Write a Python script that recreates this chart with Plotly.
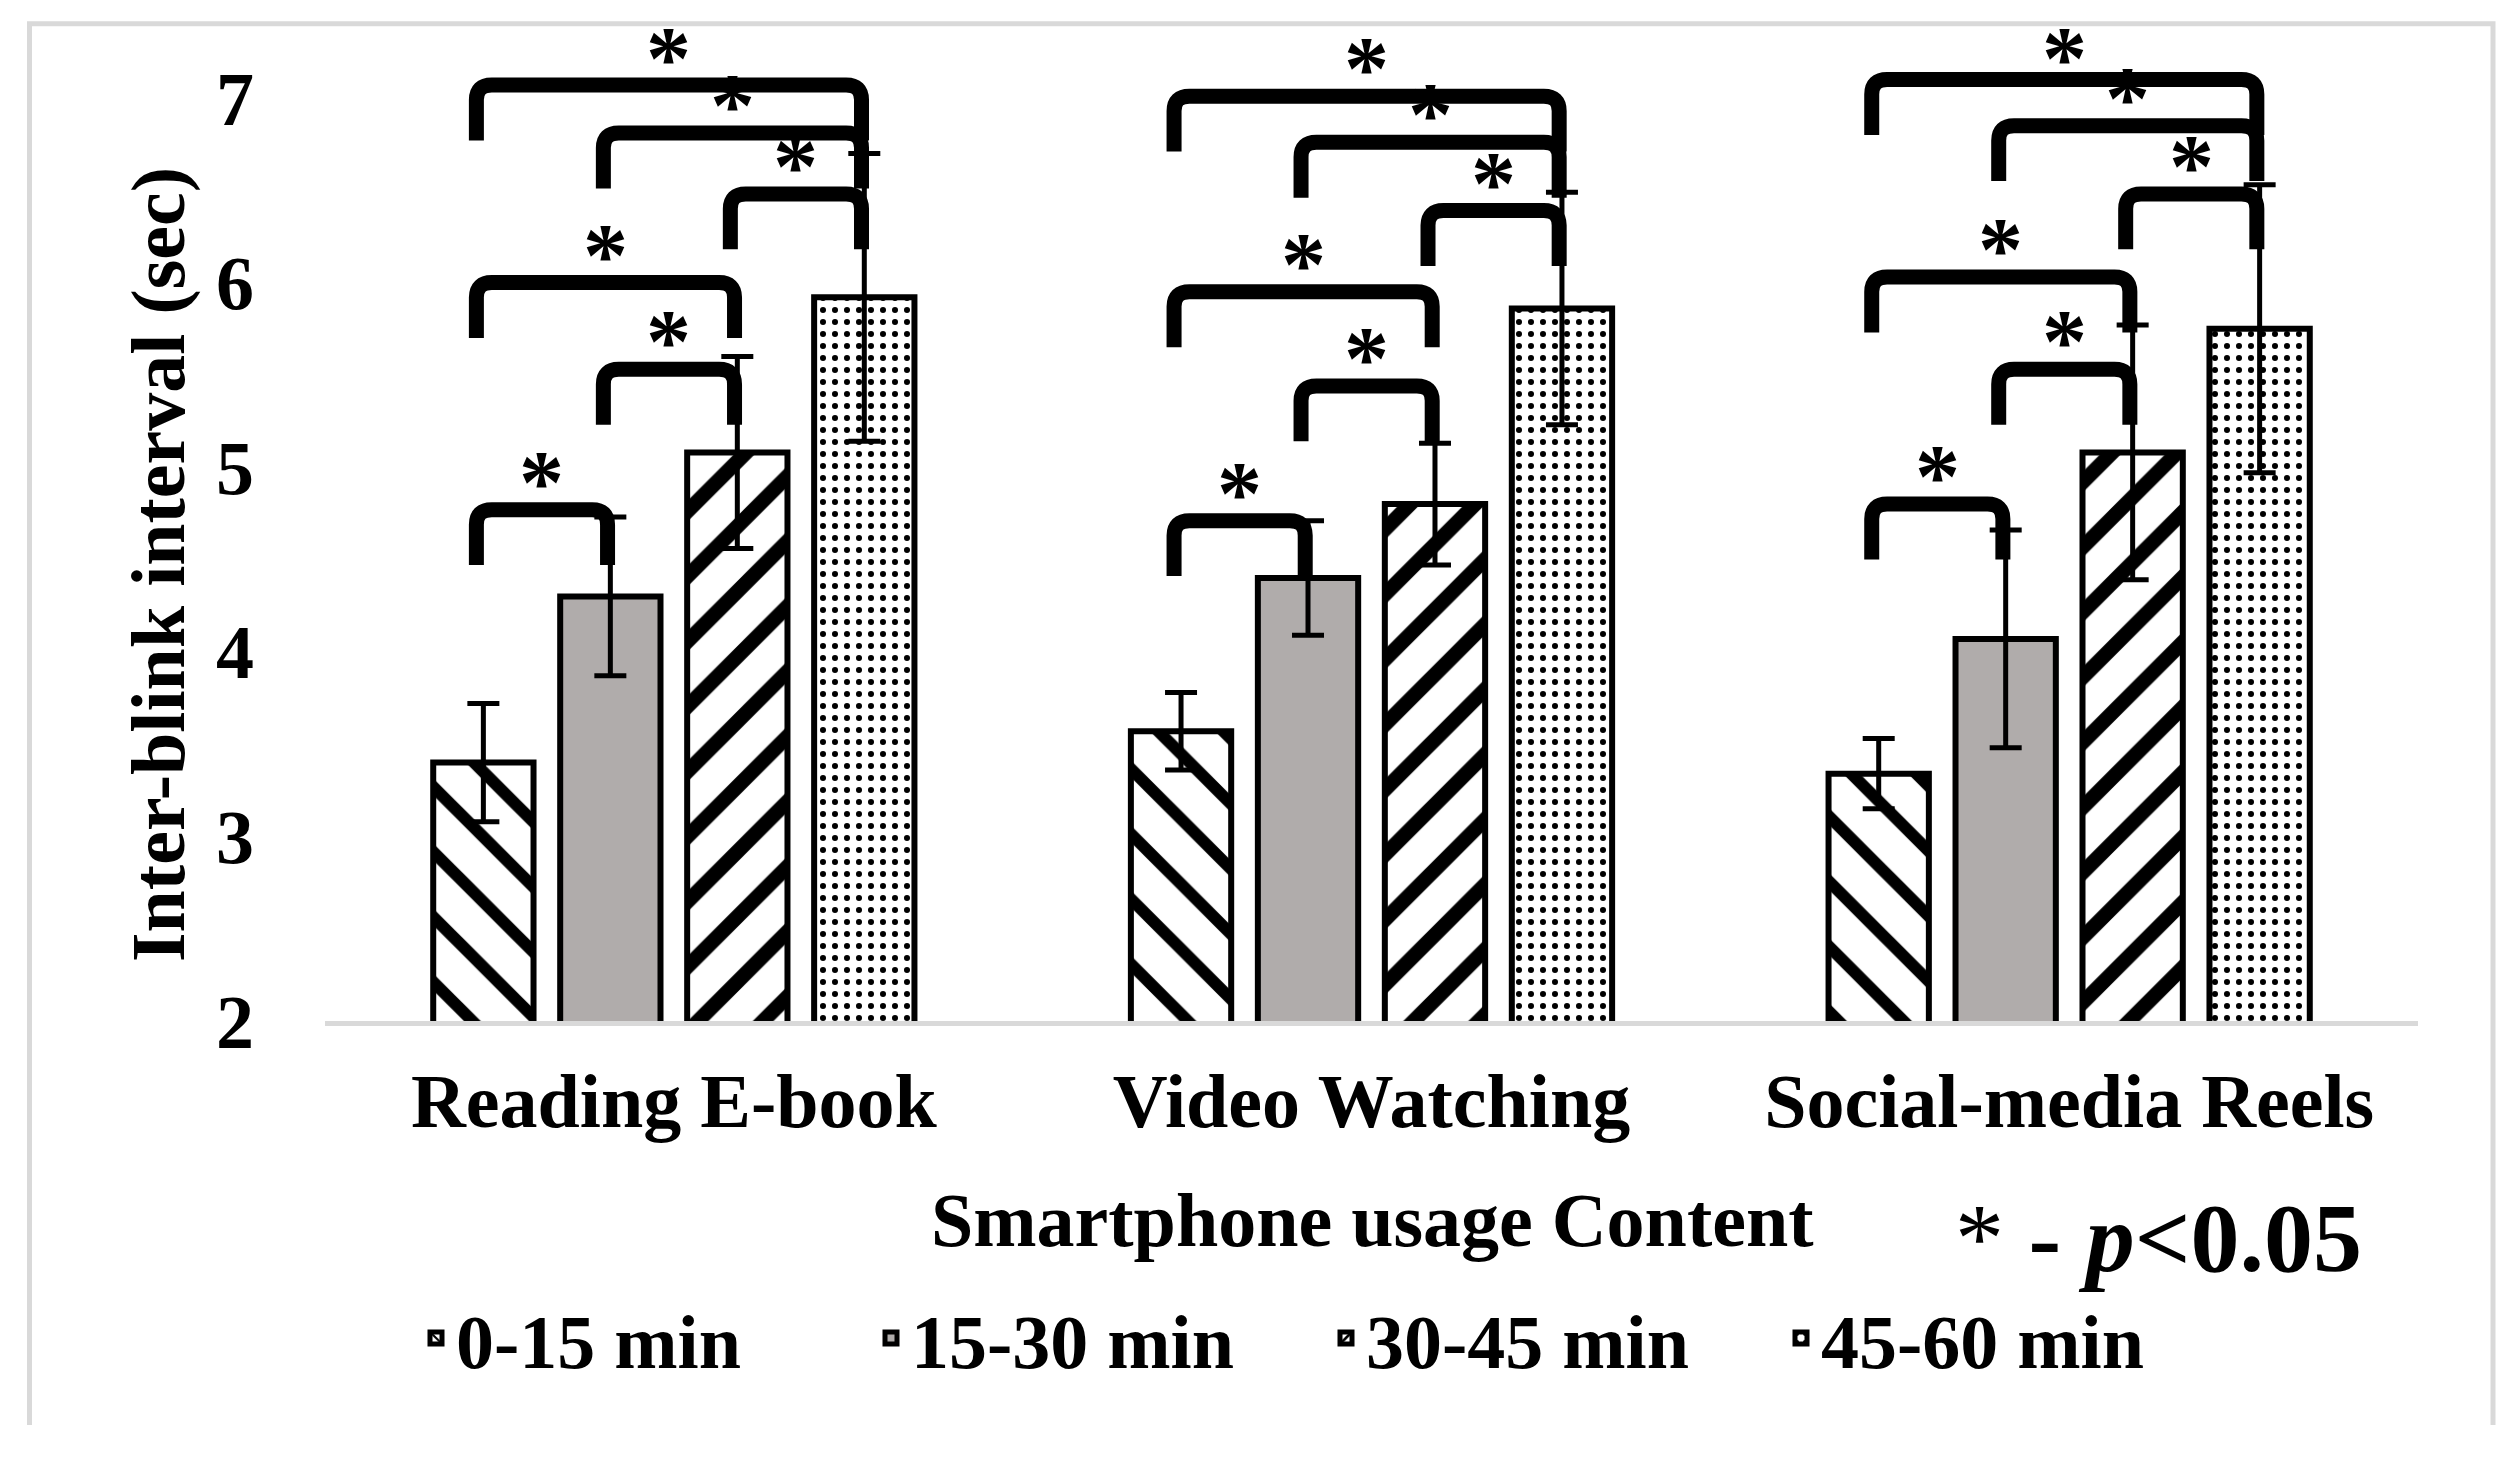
import plotly.graph_objects as go

# ---------------- data ----------------
categories = ["Reading E-book", "Video Watching", "Social-media Reels"]
series_names = ["0-15 min", "15-30 min", "30-45 min", "45-60 min"]

mean_0_15 = [3.40, 3.57, 3.34]
mean_15_30 = [4.30, 4.40, 4.07]
mean_30_45 = [5.08, 4.80, 5.08]
mean_45_60 = [5.92, 5.86, 5.75]

sd_0_15 = [0.32, 0.21, 0.19]
sd_15_30 = [0.43, 0.31, 0.59]
sd_30_45 = [0.52, 0.33, 0.69]
sd_45_60 = [0.78, 0.63, 0.78]

y_ticks = [2, 3, 4, 5, 6, 7]

# significance brackets per category: (bar i, bar j, bracket level)
sig_reading = [(0, 1, 4.77), (1, 2, 5.53), (0, 2, 6.00), (2, 3, 6.48), (1, 3, 6.81), (0, 3, 7.07)]
sig_video = [(0, 1, 4.71), (1, 2, 5.44), (0, 2, 5.95), (2, 3, 6.39), (1, 3, 6.76), (0, 3, 7.01)]
sig_reels = [(0, 1, 4.80), (1, 2, 5.53), (0, 2, 6.03), (2, 3, 6.48), (1, 3, 6.85), (0, 3, 7.10)]

# ---------------- layout constants ----------------
W, H = 2510, 1463
L, R, T, B = 317, 100, 20, 450
PW, PH = W - L - R, H - T - B
Y0 = 2.0
UNIT = 184.6  # px per y unit
Y1 = Y0 + PH / UNIT
BARGAP = 0.272
GROUPGAP = 0.21
FONT = "Liberation Serif, Times New Roman, serif"
FS = 76
STAR_MAX = 7.235  # keep top stars inside the page


def px_to_paper_x(px):
    return (px - L) / PW


def px_to_paper_y(py):
    return (H - B - py) / PH


means = [mean_0_15, mean_15_30, mean_30_45, mean_45_60]
sds = [sd_0_15, sd_15_30, sd_30_45, sd_45_60]
styles = [
    dict(color="white", pattern=dict(shape="\\", fgcolor="black", bgcolor="white", size=46, solidity=0.26, fillmode="replace")),
    dict(color="#b0acab"),
    dict(color="white", pattern=dict(shape="/", fgcolor="black", bgcolor="white", size=46, solidity=0.32, fillmode="replace")),
    dict(color="white", pattern=dict(shape=".", fgcolor="black", bgcolor="white", size=12, solidity=0.2, fillmode="replace")),
]

fig = go.Figure()
for name, m, s, st in zip(series_names, means, sds, styles):
    fig.add_trace(go.Bar(
        name=name, x=list(range(len(categories))), y=m,
        marker=dict(line=dict(color="black", width=6), **st),
        error_y=dict(type="data", array=s, visible=True, color="black", thickness=5, width=16),
    ))

# ---------------- brackets & stars ----------------
n = len(series_names)
slot = (1 - BARGAP) / n
leg = 0.30
rx, ry = 0.022, 0.08
shapes = []
annotations = []
for c, sig in enumerate([sig_reading, sig_video, sig_reels]):
    for i, j, lvl in sig:
        xl = c + (i - (n - 1) / 2) * slot - 0.010
        xr = c + (j - (n - 1) / 2) * slot - 0.004
        path = (f"M{xl},{lvl - leg} L{xl},{lvl - ry} Q{xl},{lvl} {xl + rx},{lvl} "
                f"L{xr - rx},{lvl} Q{xr},{lvl} {xr},{lvl - ry} L{xr},{lvl - leg}")
        shapes.append(dict(type="path", path=path, xref="x", yref="y",
                           line=dict(color="black", width=15), layer="above"))
        annotations.append(dict(x=(xl + xr) / 2, y=min(lvl + 0.17, STAR_MAX), xref="x", yref="y",
                                xanchor="center", yanchor="middle",
                                text="*", showarrow=False, yshift=-4,
                                font=dict(family=FONT, size=90, color="black", weight="bold")))

# outer light-gray frame (left, top, right)
fx0, fx1 = px_to_paper_x(21.5), px_to_paper_x(2485)
fy0, fy1 = px_to_paper_y(1417), px_to_paper_y(15.8)
shapes.append(dict(type="path", xref="paper", yref="paper",
                   path=f"M{fx0},{fy0} L{fx0},{fy1} L{fx1},{fy1} L{fx1},{fy0}",
                   line=dict(color="#d9d9d9", width=5), layer="below"))

# axis titles and note
annotations.append(dict(text="Inter-blink interval (sec)", textangle=-90, showarrow=False,
                        xref="paper", yref="paper", x=px_to_paper_x(150), y=px_to_paper_y(557),
                        xanchor="center", yanchor="middle",
                        font=dict(family=FONT, size=FS, color="black", weight="bold")))
annotations.append(dict(text="Smartphone usage Content", showarrow=False,
                        xref="paper", yref="paper", x=px_to_paper_x(1364), y=px_to_paper_y(1212),
                        xanchor="center", yanchor="middle",
                        font=dict(family=FONT, size=FS, color="black", weight="bold")))
annotations.append(dict(text="* <b>- <i>p</i>&lt;0.05</b>", showarrow=False,
                        xref="paper", yref="paper", x=px_to_paper_x(2150), y=px_to_paper_y(1230),
                        xanchor="center", yanchor="middle",
                        font=dict(family=FONT, size=98, color="black")))

fig.update_layout(
    width=W, height=H,
    margin=dict(l=L, r=R, t=T, b=B, autoexpand=False),
    paper_bgcolor="white", plot_bgcolor="white",
    barmode="group", bargap=BARGAP, bargroupgap=GROUPGAP,
    font=dict(family=FONT, size=FS, color="black"),
    xaxis=dict(range=[-0.5, len(categories) - 0.5], tickvals=list(range(len(categories))),
               ticktext=categories, showgrid=False, zeroline=False, showline=True,
               linecolor="#d9d9d9", linewidth=5, ticks="", ticklabelstandoff=10,
               tickfont=dict(family=FONT, size=FS, color="black", weight="bold")),
    yaxis=dict(range=[Y0, Y1], tickvals=y_ticks, showgrid=False, zeroline=False,
               showline=False, ticks="", ticklabelstandoff=70,
               tickfont=dict(family=FONT, size=FS, color="black", weight="bold")),
    legend=dict(orientation="h", x=px_to_paper_x(408), xanchor="left",
                y=px_to_paper_y(1330), yanchor="middle", entrywidth=410,
                font=dict(family=FONT, size=FS, color="black", weight="bold"),
                bgcolor="rgba(0,0,0,0)"),
    shapes=shapes, annotations=annotations,
)

fig.write_html("out.html")
